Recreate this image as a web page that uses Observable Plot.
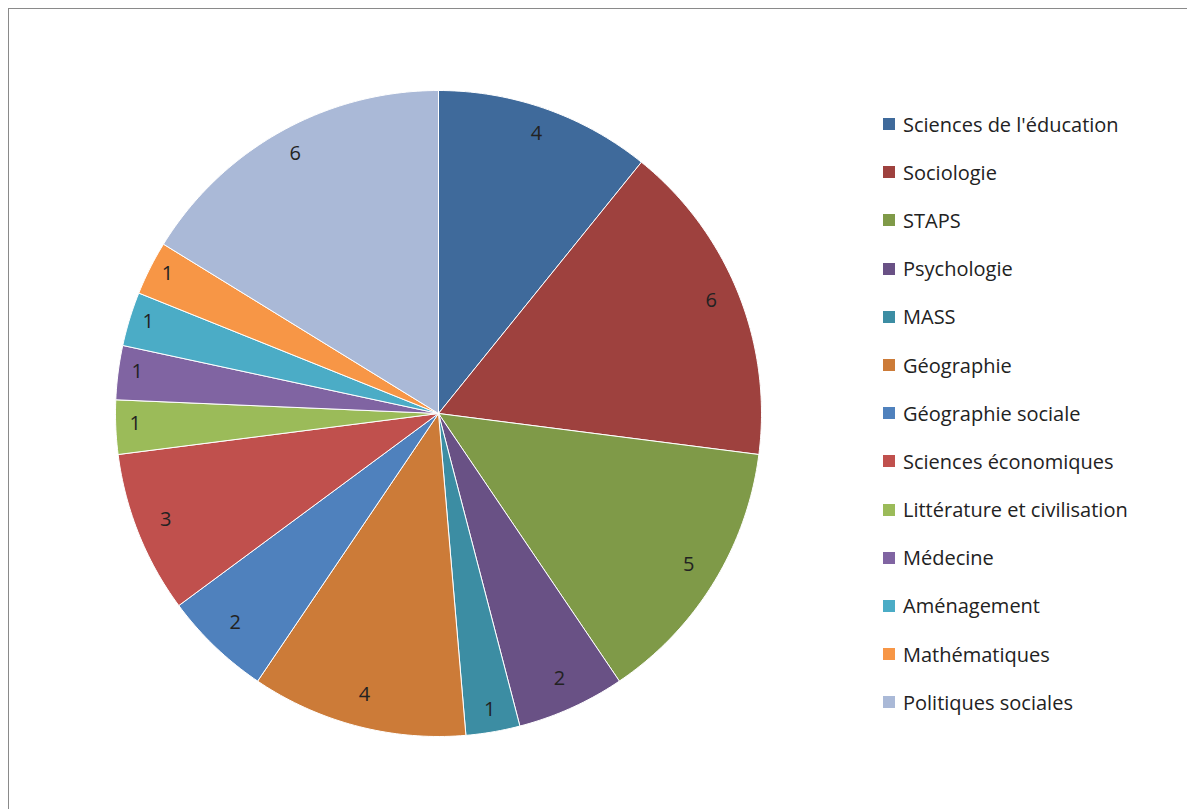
<!DOCTYPE html>
<html><head><meta charset="utf-8">
<script src="https://cdn.jsdelivr.net/npm/d3@7"></script>
<script src="https://cdn.jsdelivr.net/npm/@observablehq/plot@0.6"></script>
<style>
body{margin:0;background:#fff;font-family:"Open Sans",sans-serif;}
#frame{position:absolute;left:8px;top:8px;width:1200px;height:820px;border:1px solid #8a8a8a;}
#chart{position:absolute;left:0;top:0;}
#legend{position:absolute;left:883px;top:100px;}
.item{display:flex;align-items:center;height:48.2px;font-size:20px;color:#222;}
.sw{width:12px;height:12px;margin-right:8px;}
</style></head>
<body>
<div id="frame"></div>
<div id="chart"></div>
<div id="legend"></div>
<script>
const categories = ["Sciences de l'éducation","Sociologie","STAPS","Psychologie","MASS","Géographie","Géographie sociale","Sciences économiques","Littérature et civilisation","Médecine","Aménagement","Mathématiques","Politiques sociales"];
const values = [4,6,5,2,1,4,2,3,1,1,1,1,6];
const colors = ["#3F6A9B","#9E413E","#7F9A48","#695185","#3C8DA3","#CC7B38","#4F81BD","#C0504D","#9BBB59","#8064A2","#4BACC6","#F79646","#AAB9D7"];

const arcs = d3.pie().sort(null)(values);
const poly = [];
const labels = [];
arcs.forEach((a, i) => {
  poly.push({cat: categories[i], x: 0, y: 0});
  const n = Math.max(4, Math.ceil((a.endAngle - a.startAngle) * 60));
  for (let k = 0; k <= n; k++) {
    const t = a.startAngle + (a.endAngle - a.startAngle) * k / n;
    poly.push({cat: categories[i], x: Math.sin(t), y: Math.cos(t)});
  }
  poly.push({cat: categories[i], x: 0, y: 0});
  const m = (a.startAngle + a.endAngle) / 2;
  const r = values[i] === 1 ? 0.94 : 0.91;
  labels.push({x: r * Math.sin(m), y: r * Math.cos(m), v: values[i]});
});

const chart = Plot.plot({
  width: 1187, height: 809,
  margin: 0,
  x: {domain: [-1, 1], range: [438 - 323, 438 + 323], axis: null},
  y: {domain: [-1, 1], range: [413 + 323, 413 - 323], axis: null},
  color: {domain: categories, range: colors},
  marks: [
    Plot.line(poly, {x: "x", y: "y", z: "cat", fill: "cat", stroke: "white", strokeWidth: 1, curve: "linear"}),
    Plot.text(labels, {x: "x", y: "y", dy: -3, text: "v", fontSize: 20, fill: "#222", fontFamily: "Open Sans"})
  ]
});
d3.select('#chart').append(() => chart);

const lg = d3.select('#legend');
categories.forEach((c, i) => {
  const it = lg.append('div').attr('class', 'item');
  it.append('div').attr('class', 'sw').style('background', colors[i]);
  it.append('span').text(c);
});
</script>
</body></html>
